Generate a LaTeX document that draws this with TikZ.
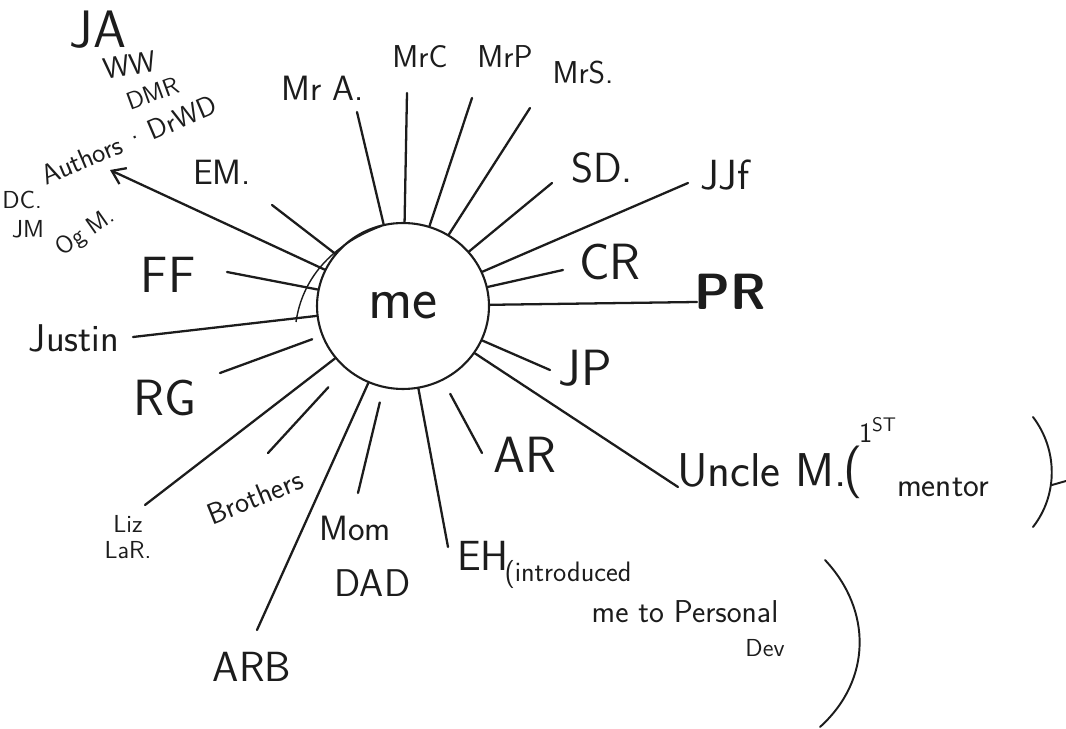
\documentclass[tikz,border=0pt]{standalone}
\usepackage{tikz}
\usetikzlibrary{arrows.meta,positioning,shapes.geometric}
\definecolor{pen}{HTML}{1C1C1C}
\tikzset{
  every node/.style={font=\sffamily, text=pen},
  tag/.style={inner sep=1pt, font=\sffamily\fontsize{20}{22}\selectfont},
  tagS/.style={tag, font=\sffamily\fontsize{14}{15}\selectfont},
  tagM/.style={tag, font=\sffamily\fontsize{24}{26}\selectfont},
  tagL/.style={tag, font=\sffamily\fontsize{29}{31}\selectfont},
  hub/.style={ellipse, draw=pen, line width=1.2pt, minimum width=3.44cm, minimum height=3.32cm, inner sep=0pt, font=\sffamily\fontsize{34}{36}\selectfont},
  spoke/.style={draw=pen, line width=1.3pt, line cap=round},
  arrowline/.style={spoke, -{Straight Barb[length=2.5mm,width=3.5mm]}},
  paren/.style={draw=pen, line width=1.1pt, line cap=round},
}

\begin{document}
\begin{tikzpicture}[x=0.02cm,y=-0.02cm]
\path[use as bounding box, fill=white] (0,0) rectangle (1066,729);

% the hub
\node[hub] (me) at (403,306) {me};
\draw[pen, line width=0.8pt] (296,322) .. controls (302,280) and (330,245) .. (382,226);

% upper left: the authors group
\node[tag, font=\sffamily\fontsize{30}{32}\selectfont] (ja) at (98,30) {JA};
\node[tag, font=\sffamily\fontsize{17}{19}\selectfont, rotate=10] (ww) at (130,65) {WW};
\node[tagS, rotate=20] (dmr) at (153,93) {DMR};
\node[tag, font=\sffamily\fontsize{16}{18}\selectfont, rotate=23] (authors) at (129,140) {Authors\,·\,DrWD};
\node[tagS] (dc) at (22,200) {DC.};
\node[tagS] (jm) at (28,229) {JM};
\node[tagS, rotate=35] (ogm) at (86,233) {Og M.};
\coordinate (authors-tip) at (110,170);

% top arc of names
\node[tag] (em) at (222,172) {EM.};
\node[tag] (mra) at (323,88) {Mr A.};
\node[tag, font=\sffamily\fontsize{18}{20}\selectfont] (mrc) at (420,57) {MrC};
\node[tag, font=\sffamily\fontsize{18}{20}\selectfont] (mrp) at (505,57) {MrP};
\node[tag, font=\sffamily\fontsize{18}{20}\selectfont] (mrs) at (583,73) {MrS.};
\node[tagM] (sd) at (602,168) {SD.};
\node[tagM] (jjf) at (725,175) {JJf};

% right side
\node[tagL] (cr) at (610,262) {CR};
\node[tagL, font=\sffamily\bfseries\fontsize{29}{31}\selectfont] (pr) at (730,292) {PR};
\node[tagL] (jp) at (585,368) {JP};
\node[tagL, font=\sffamily\fontsize{27}{29}\selectfont] (uncle) at (762,470) {Uncle M.};
\node[tag, font=\sffamily\fontsize{30}{32}\selectfont] (lparen) at (853,472) {(};
\node[tagS, font=\sffamily\fontsize{16}{18}\selectfont] (first) at (878,430) {1\textsuperscript{ST}};
\node[tag, font=\sffamily\fontsize{19}{21}\selectfont] (mentor) at (943,487) {mentor};
\draw[paren] (1033,417) .. controls (1058,450) and (1058,495) .. (1033,527);
\draw[paren] (1052,485) -- (1066,481);

% bottom
\node[tagL] (ar) at (525,455) {AR};
\node[tagM] (eh) at (483,556) {EH};
\node[tag, font=\sffamily\fontsize{16}{18}\selectfont] (intro) at (568,574) {(introduced};
\node[tag, font=\sffamily\fontsize{18}{20}\selectfont] (metop) at (685,612) {me to Personal};
\node[tagS] (dev) at (765,648) {Dev};
\draw[paren] (825,560) .. controls (872,610) and (872,680) .. (820,727);
\node[tag] (mom) at (355,528) {Mom};
\node[tag, font=\sffamily\fontsize{22}{24}\selectfont, below=5mm of mom, xshift=3.5mm] (dad) {DAD};
\node[tagM] (arb) at (252,667) {ARB};
\node[tag, font=\sffamily\fontsize{17}{19}\selectfont, rotate=22] (bro) at (255,497) {Brothers};
\node[tagS, align=center] (liz) at (128,537) {Liz\\LaR.};

% left side
\node[tagL] (rg) at (165,398) {RG};
\node[tag, font=\sffamily\fontsize{22}{24}\selectfont] (justin) at (74,338) {Justin};
\node[tagL] (ff) at (168,275) {FF};

% free ends of the spokes
\coordinate (em-end) at (272,205);
\coordinate (mra-end) at (357,112);
\coordinate (mrc-end) at (407,93);
\coordinate (mrp-end) at (472,98);
\coordinate (mrs-end) at (530,108);
\coordinate (sd-end) at (552,183);
\coordinate (jjf-end) at (688,183);
\coordinate (cr-end) at (563,270);
\coordinate (pr-end) at (697,302);
\coordinate (jp-end) at (550,370);
\coordinate (uncle-end) at (678,487);
\coordinate (ar-end) at (482,453);
\coordinate (eh-end) at (448,547);
\coordinate (mom-end) at (358,493);
\coordinate (arb-end) at (257,630);
\coordinate (bro-end) at (268,453);
\coordinate (liz-end) at (145,505);
\coordinate (rg-end) at (220,373);
\coordinate (justin-end) at (133,337);
\coordinate (ff-end) at (227,272);

\foreach \s/\g in {em/0mm,mra/0mm,mrc/0mm,mrp/0mm,mrs/0mm,sd/0mm,jjf/0mm,cr/0mm,pr/0mm,jp/0mm,uncle/0mm,ar/3mm,eh/0mm,mom/3mm,arb/0mm,bro/5mm,liz/0mm,rg/2mm,justin/0mm,ff/0mm}
  \draw[spoke, shorten <=\g] (me) -- (\s-end);
\draw[arrowline] (me) -- (authors-tip);
\end{tikzpicture}
\end{document}
